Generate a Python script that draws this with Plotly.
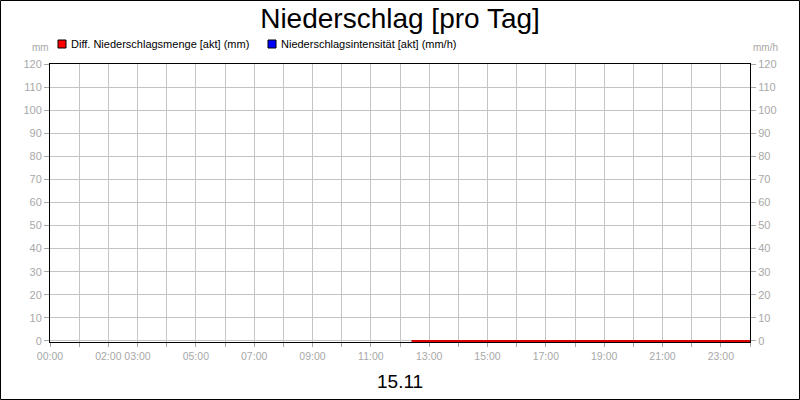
import plotly.graph_objects as go

# hours of the day (x) and values
hours_menge = [12.4, 13, 14, 15, 16, 17, 18, 19, 20, 21, 22, 23, 24]
menge = [0, 0, 0, 0, 0, 0, 0, 0, 0, 0, 0, 0, 0]
hours_intens = [12.4, 13, 14, 15, 16, 17, 18, 19, 20, 21, 22, 23, 24]
intens = [0, 0, 0, 0, 0, 0, 0, 0, 0, 0, 0, 0, 0]

tick_hours = [0, 2, 3, 5, 7, 9, 11, 13, 15, 17, 19, 21, 23]
tick_text = ["00:00", "02:00", "03:00", "05:00", "07:00", "09:00", "11:00",
             "13:00", "15:00", "17:00", "19:00", "21:00", "23:00"]
y_ticks = list(range(0, 121, 10))

legend_names = ["Diff. Niederschlagsmenge [akt] (mm)", "Niederschlagsintensität [akt] (mm/h)"]
legend_colors = ["#ff0000", "#0000ff"]

grey = "#a8a8a8"
gridc = "#c4c4c4"
font = "Liberation Sans, Arial, sans-serif"

W, H = 700, 278  # plot area in px
y_range = [-0.45, 120]

fig = go.Figure()
fig.add_trace(go.Scatter(x=hours_intens, y=intens, mode="lines",
                         line=dict(color=legend_colors[1], width=1), name=legend_names[1]))
fig.add_trace(go.Scatter(x=hours_menge, y=menge, mode="lines",
                         line=dict(color="#dd0000", width=2), name=legend_names[0]))
fig.add_trace(go.Scatter(x=[None], y=[None], yaxis="y2", showlegend=False))

fig.update_layout(
    width=800, height=400,
    margin=dict(l=50, r=50, t=64, b=58, autoexpand=False),
    paper_bgcolor="white", plot_bgcolor="white",
    font=dict(family=font, size=11, color=grey),
    title=dict(text="Niederschlag [pro Tag]", x=0.5, xanchor="center", y=0.955, yanchor="middle",
               font=dict(size=28, color="black", family=font)),
    showlegend=False,
    xaxis=dict(range=[0, 24], tickmode="array", tickvals=tick_hours, ticktext=tick_text,
               tickangle=0, automargin=False,
               showgrid=True, gridcolor=gridc, gridwidth=1,
               ticks="outside", ticklen=4, tickcolor=grey,
               minor=dict(dtick=1, tick0=0, showgrid=True, gridcolor=gridc,
                          ticks="outside", ticklen=4, tickcolor=grey),
               showline=True, linecolor="black", linewidth=1, mirror=True,
               zeroline=False, tickfont=dict(size=10.5, color=grey)),
    yaxis=dict(range=y_range, tickvals=y_ticks, showgrid=True, gridcolor=gridc, automargin=False,
               ticks="outside", ticklen=5, tickcolor=grey,
               showline=True, linecolor="black", linewidth=1,
               zeroline=False, tickfont=dict(size=11, color=grey)),
    yaxis2=dict(range=y_range, tickvals=y_ticks, overlaying="y", side="right", automargin=False,
                showgrid=False, ticks="outside", ticklen=5, tickcolor=grey,
                showline=True, linecolor="black", linewidth=1,
                zeroline=False, tickfont=dict(size=11, color=grey)),
)

# legend drawn as small squares with labels
legend_x = [8, 218]
for i in range(2):
    fig.add_shape(type="rect", xref="paper", yref="paper",
                  x0=legend_x[i] / W, x1=(legend_x[i] + 8) / W,
                  y0=1 + 16 / H, y1=1 + 24 / H,
                  fillcolor=legend_colors[i], line=dict(color="black", width=1))
    fig.add_annotation(text=legend_names[i], xref="paper", yref="paper",
                       x=(legend_x[i] + 11) / W, y=1 + 20 / H, xanchor="left", yanchor="middle",
                       showarrow=False, font=dict(size=11, color="black", family=font))

fig.add_annotation(text="mm", xref="paper", yref="paper", x=-10 / W, y=1 + 16 / H,
                   xanchor="center", yanchor="middle",
                   showarrow=False, font=dict(size=10, color=grey))
fig.add_annotation(text="mm/h", xref="paper", yref="paper", x=1 + 15 / W, y=1 + 16 / H,
                   xanchor="center", yanchor="middle",
                   showarrow=False, font=dict(size=10, color=grey))
fig.add_annotation(text="15.11", xref="paper", yref="paper", x=0.5, y=-39 / H,
                   xanchor="center", yanchor="middle",
                   showarrow=False, font=dict(size=19, color="black", family=font))

# black frame around the whole picture
fig.add_shape(type="rect", xref="paper", yref="paper",
              x0=-49.5 / W, x1=1 + 49.5 / W, y0=-57.5 / H, y1=1 + 63.5 / H,
              line=dict(color="black", width=1))

fig.write_html("out.html", config={"displayModeBar": False},
               post_script="document.body.style.margin='0';")
